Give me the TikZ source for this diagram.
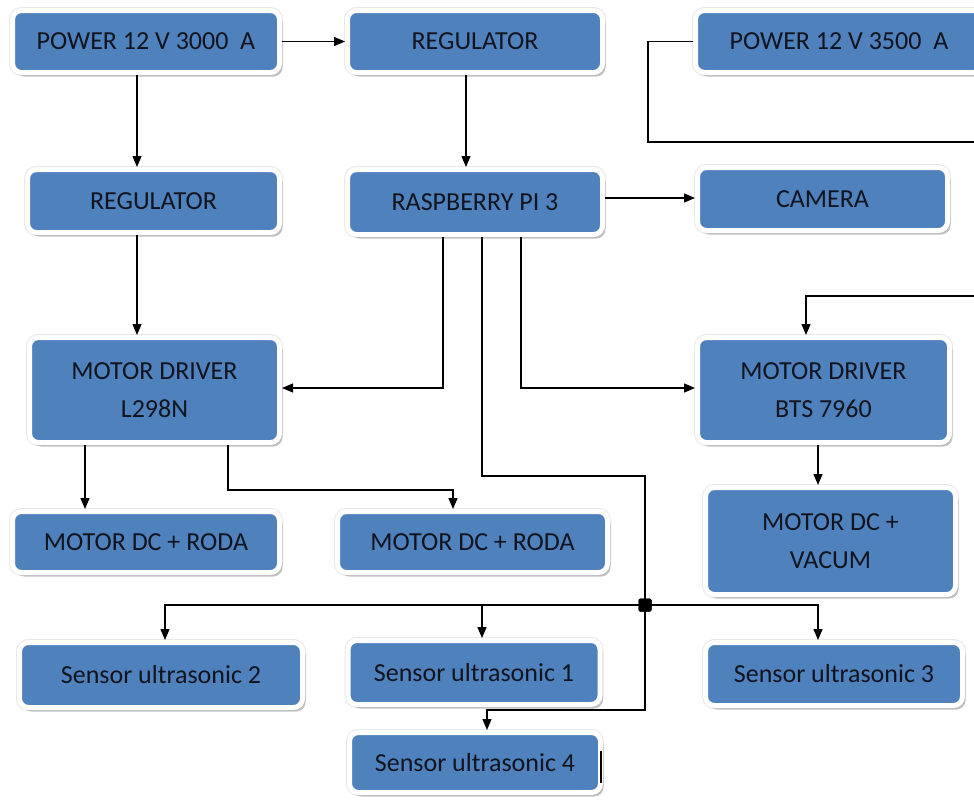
\documentclass[tikz,border=0pt]{standalone}
\usepackage{fontspec}
\setmainfont{Carlito}
\usetikzlibrary{arrows.meta,shadows}
\definecolor{boxblue}{HTML}{4F81BD}
\definecolor{boxtext}{HTML}{10141F}
\begin{document}
\begin{tikzpicture}[x=1pt,y=-1pt,
  box/.style={rectangle, rounded corners=9pt, fill=boxblue, draw=white, line width=5pt,
    preaction={draw=gray!18, line width=7pt},
    drop shadow={shadow xshift=3pt, shadow yshift=-4pt, opacity=0.45, fill=gray},
    inner sep=0pt, align=center, text=boxtext, font=\fontsize{26}{38}\selectfont},
  conn/.style={draw=black, line width=1.3pt},
  arr/.style={conn, -{Triangle[length=11pt,width=9pt]}},
  junc/.style={fill=black, rectangle, rounded corners=1.5pt, minimum size=13pt, inner sep=0pt}]
\useasboundingbox (0,0) rectangle (974,801);
\fill[white] (0,0) rectangle (974,801);
% nodes
\node[box, minimum width=267pt, minimum height=62pt] (p1)   at (146,41.5) {POWER 12 V 3000~ A};
\node[box, minimum width=255pt, minimum height=62pt] (reg1) at (475,41.5) {REGULATOR};
\node[box, minimum width=287pt, minimum height=62pt] (p2)   at (839,41.5) {POWER 12 V 3500~ A};
\node[box, minimum width=252pt, minimum height=63pt] (reg2) at (153.5,201) {REGULATOR};
\node[box, minimum width=255pt, minimum height=65pt] (rpi)  at (475,202) {RASPBERRY PI 3};
\node[box, minimum width=250pt, minimum height=63pt] (cam)  at (822.5,199) {CAMERA};
\node[box, minimum width=250pt, minimum height=105pt] (drv1) at (154.5,390) {MOTOR DRIVER\\L298N};
\node[box, minimum width=252pt, minimum height=105pt] (drv2) at (823.5,390) {MOTOR DRIVER\\BTS 7960};
\node[box, minimum width=267pt, minimum height=61pt] (m1)   at (146,542) {MOTOR DC + RODA};
\node[box, minimum width=270pt, minimum height=61pt] (m2)   at (472.5,542) {MOTOR DC + RODA};
\node[box, minimum width=250pt, minimum height=107pt] (vac)  at (830.5,541) {MOTOR DC +\\VACUM};
\node[box, minimum width=283pt, minimum height=65pt] (s2)   at (161,675) {Sensor ultrasonic 2};
\node[box, minimum width=252pt, minimum height=64pt] (s1)   at (474,672.5) {Sensor ultrasonic 1};
\node[box, minimum width=257pt, minimum height=63pt] (s3)   at (834,674) {Sensor ultrasonic 3};
\node[box, minimum width=251pt, minimum height=60pt] (s4)   at (475,762.5) {Sensor ultrasonic 4};
\node[junc] (j) at (645,605) {};
\coordinate (e1) at (980,142);
\coordinate (e2) at (980,296);
% connectors
\draw[arr] (p1.east) -- (reg1.west);
\draw[arr] (p1.south -| 137,0) -- (reg2.north -| 137,0);
\draw[arr] (reg2.south -| 137,0) -- (drv1.north -| 137,0);
\draw[arr] (reg1.south -| 466,0) -- (rpi.north -| 466,0);
\draw[arr] (rpi.east |- 0,198) -- (cam.west |- 0,198);
\draw[conn] (p2.west) -- (648,41.5) |- (e1);
\draw[arr] (e2) -| (drv2.north -| 806,0);
\draw[arr] (rpi.south -| 443,0) |- (drv1.east |- 0,388);
\draw[arr] (rpi.south -| 521,0) |- (drv2.west |- 0,388);
\draw[arr] (rpi.south -| 482,0) -- (482,476) -- (645,476) -- (645,710) -- (487,710) -- (s4.north -| 487,0);
\draw[arr] (j.center) -| (s2.north -| 165,0);
\draw[arr] (j.center) -| (s1.north -| 482,0);
\draw[arr] (j.center) -| (s3.north -| 818,0);
\draw[arr] (drv1.south -| 85,0) -- (m1.north -| 85,0);
\draw[arr] (drv1.south -| 228,0) -- (228,490) -| (m2.north -| 453,0);
\draw[arr] (drv2.south -| 818,0) -- (vac.north -| 818,0);
\node[junc] at (j) {};
\draw[line width=2.5pt] (601,751) -- (601,783);
\end{tikzpicture}
\end{document}
